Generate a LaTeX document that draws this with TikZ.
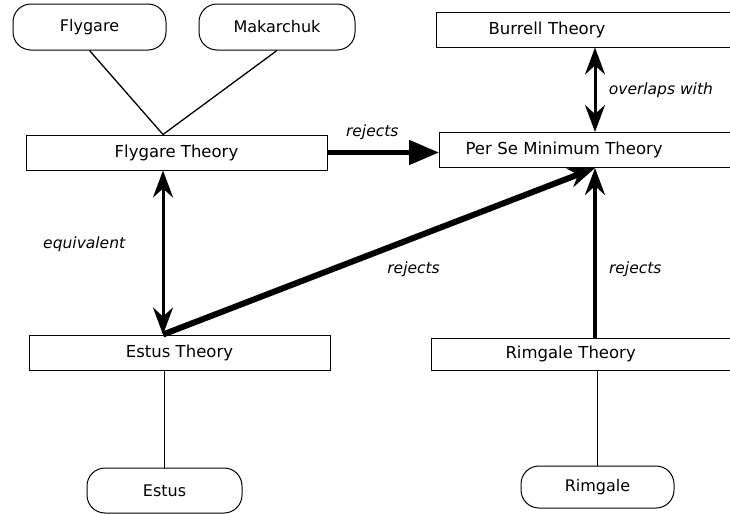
\documentclass[tikz,border=0pt]{standalone}
\usepackage{fontspec}
\setmainfont{DejaVu Sans}
\usetikzlibrary{arrows.meta}
\begin{document}
\begin{tikzpicture}[x=1pt, y=-1pt,
        person/.style={draw, line width=1pt, rounded corners=18pt, minimum height=46pt, font=\fontsize{16}{19}\selectfont},
        theory/.style={draw, line width=1pt, minimum height=35pt, minimum width=301pt, font=\fontsize{16.5}{20}\selectfont},
        rtheory/.style={draw, line width=1pt, anchor=west, minimum height=35pt, text width=300pt, align=left, font=\fontsize{16.5}{20}\selectfont},
        lbl/.style={font=\itshape\fontsize{15.5}{18}\selectfont},
        tie/.style={line width=1.3pt},
        barb/.tip={Stealth[length=27pt, width=20pt, inset=9pt]}]
    \useasboundingbox (0,0) rectangle (730,514);
    \coordinate (eqx) at (163,0);
    \coordinate (hub) at (595,0);
%
    \node[person, minimum width=153pt] (flygare) at (89.5,27) {Flygare};
    \node[person, minimum width=156pt] (makarchuk) at (277,27) {Makarchuk};
    \node[theory] (flytheory) at (176.5,152.5) {Flygare Theory};
    \node[theory] (estustheory) at (179.5,352.5) {Estus Theory};
    \node[person, minimum width=155pt, minimum height=45pt] (estus) at (164.5,490.5) {Estus};
    \node[person, minimum width=153pt, minimum height=42pt] (rimgale) at (597.5,487) {Rimgale};
%
    \node[rtheory, inner xsep=52pt] (burrell) at (436,29.5) {Burrell Theory};
    \node[rtheory, inner xsep=26pt] (perse) at (439,150) {Per Se Minimum Theory};
    \node[rtheory, inner xsep=74pt, minimum height=32pt] (rimtheory) at (431,354) {Rimgale Theory};
%
    \draw[tie] (flygare.south) -- (flytheory.north -| eqx);
    \draw[tie] (makarchuk.south) -- (flytheory.north -| eqx);
    \draw[tie] (estustheory.south -| estus) -- (estus.north);
    \draw[tie] (rimtheory.south -| rimgale) -- (rimgale.north);
%
    \draw[line width=5pt, -{Triangle[length=30pt, width=24pt]}] (flytheory.east) -- (flytheory.east -| perse.west)
        node[lbl, midway, above=7pt, xshift=-11pt] {rejects};
    \draw[line width=3pt, {barb}-{barb}] (burrell.south -| hub) -- (perse.north -| hub)
        node[lbl, midway, right=9pt] {overlaps with};
    \draw[line width=3pt, {barb}-{barb}] (flytheory.south -| eqx) -- (estustheory.north -| eqx)
        node[lbl, pos=0.45, left=33pt] {equivalent};
    \draw[line width=6pt, -{barb}] (estustheory.north -| eqx) -- (perse.south -| hub)
        node[lbl, pos=0.58, below=17pt] {rejects};
    \draw[line width=3.5pt, -{barb}] (rimtheory.north -| hub) -- (perse.south -| hub)
        node[lbl, pos=0.4, right=9pt] {rejects};
\end{tikzpicture}
\end{document}
